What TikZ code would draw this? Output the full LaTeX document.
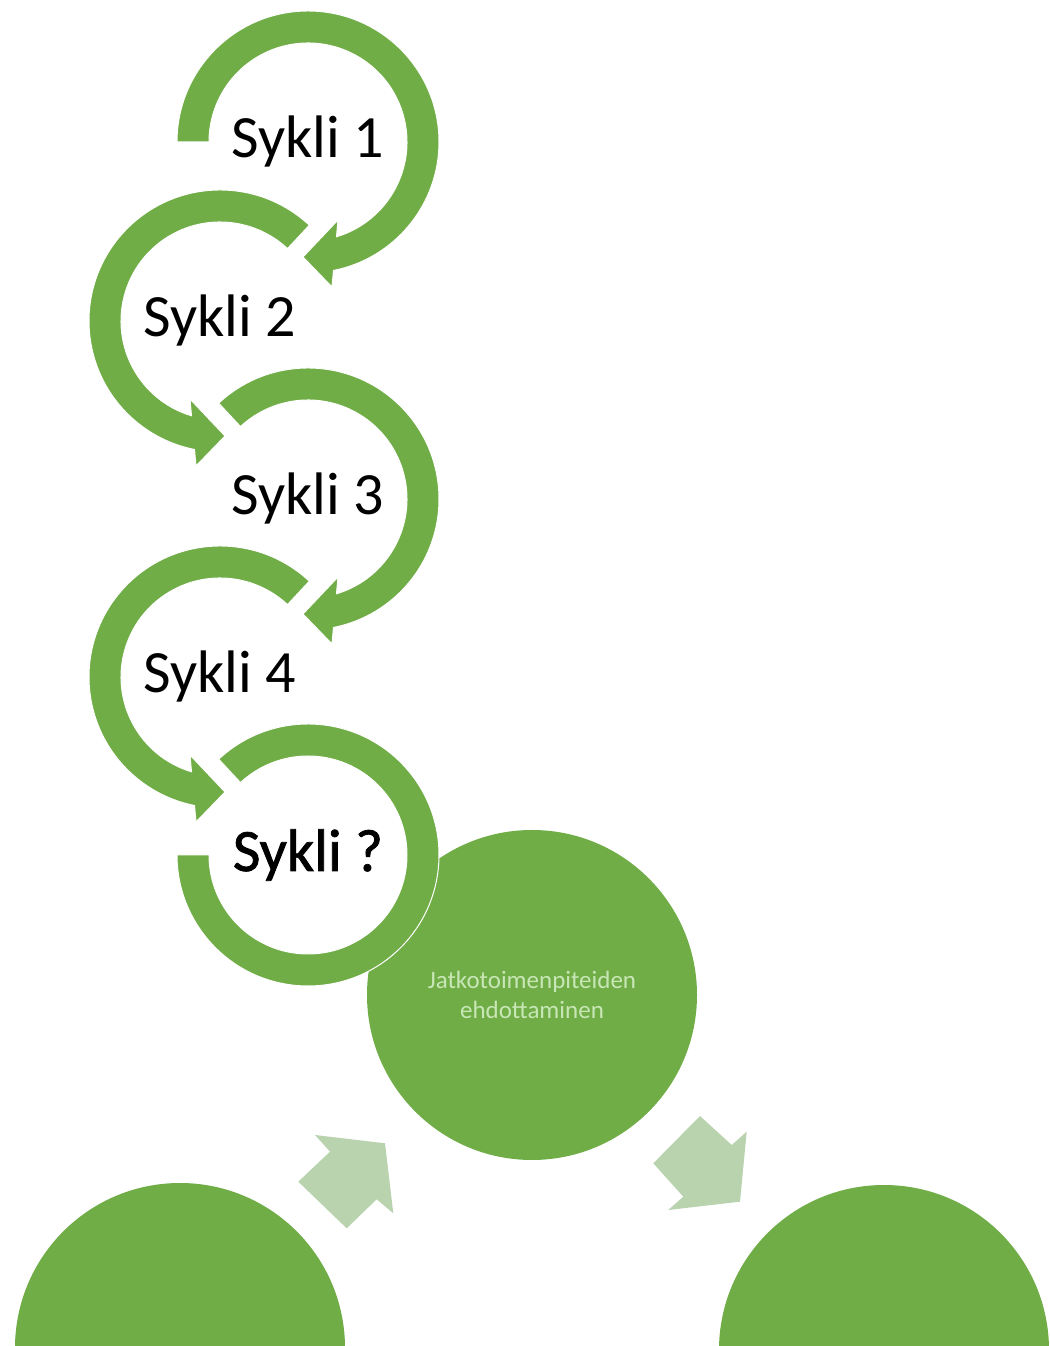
\documentclass[tikz,border=0pt]{standalone}
\usepackage{fontspec}
\setmainfont{Carlito}
\newfontfamily\heavierfont[FakeBold=1.3]{Carlito}
\definecolor{ringgreen}{HTML}{70AD47}
\definecolor{palegreen}{HTML}{B9D3AE}
\definecolor{labelgreen}{HTML}{C8E6B6}

% circular arrow with a head; #1 centre, #2 mirror (1 or -1), #3 start angle
\newcommand\headring[3]{%
  \begin{scope}[shift={#1}, xscale=#2]
    \path[ring] (#3:131) arc[start angle=#3, end angle=-78.78, radius=131]
      -- (24,-145) -- (-5,-115) -- (30,-78) -- (-73.27:99)
      arc[start angle=-73.27, end angle=#3, radius=99] -- cycle;
  \end{scope}}

\begin{document}
\begin{tikzpicture}[x=1pt, y=1pt,
  ring/.style={fill=ringgreen, draw=white, line width=1pt, line join=miter},
  bigdisc/.style={circle, fill=ringgreen, minimum size=330pt, inner sep=0pt,
    text=labelgreen, align=center, font=\fontsize{25}{30}\selectfont},
  cyclelabel/.style={anchor=base, inner sep=0pt, text=black,
    font=\fontsize{60}{72}\selectfont},
  flowarrow/.style={fill=palegreen}]
\useasboundingbox (0,0) rectangle (1049,1346);
\clip (0,0) rectangle (1049,1346);

% process discs
\node[bigdisc] (d1) at (180,-2) {};
\node[bigdisc] (d2) at (532,351) {Jatkotoimenpiteiden\\ehdottaminen};
\node[bigdisc] (d3) at (884,-4) {};

% block arrows between the discs
\path[flowarrow] (298.3,164.3) -- (330,194.3) -- (315,211) -- (385,202.7)
  -- (393.3,132.7) -- (376.7,146.7) -- (346.7,117.7) -- cycle;
\path[flowarrow] (700,230) -- (731.7,201) -- (746.7,214.3) -- (740,144.3)
  -- (668.3,136) -- (683.3,149.3) -- (653.3,182.7) -- cycle;

% cycle centres
\coordinate (r1) at (308,1204);
\coordinate (r2) at (220,1025);
\coordinate (r3) at (308,847);
\coordinate (r4) at (220,669);
\coordinate (r5) at (308,491);

% circular arrows
\headring{(r1)}{1}{180}
\headring{(r2)}{-1}{133}
\headring{(r3)}{1}{133}
\headring{(r4)}{-1}{133}
\begin{scope}[shift={(r5)}]
  \path[ring] (133:131) arc[start angle=133, end angle=-180, radius=131]
    -- (-180:99) arc[start angle=-180, end angle=133, radius=99] -- cycle;
\end{scope}

% cycle labels
\node[cyclelabel] (c1) at ([yshift=-16pt]r1) {Sykli 1};
\node[cyclelabel] (c2) at ([yshift=-16pt]r2) {Sykli 2};
\node[cyclelabel] (c3) at ([yshift=-16pt]r3) {Sykli 3};
\node[cyclelabel] (c4) at ([yshift=-16pt]r4) {Sykli 4};
\node[cyclelabel, font=\fontsize{60}{72}\selectfont\heavierfont] (c5) at ([yshift=-16pt]r5) {Sykli ?};
\end{tikzpicture}
\end{document}
